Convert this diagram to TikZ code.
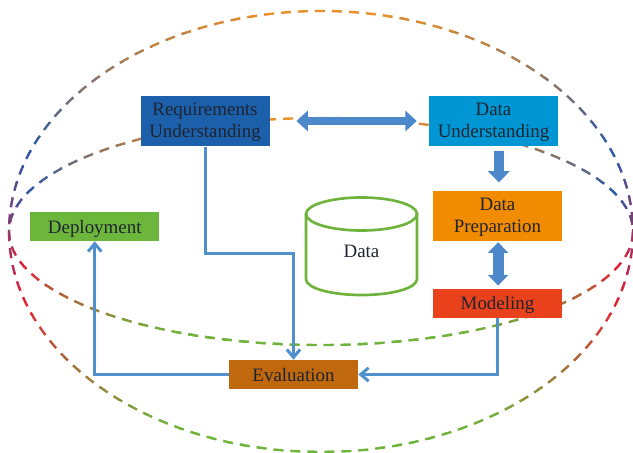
\documentclass[tikz,border=0pt]{standalone}
\usepackage{fontspec}
\setmainfont{Liberation Serif}
\usetikzlibrary{arrows.meta}

\definecolor{ringorange}{RGB}{243,146,32}
\definecolor{ringblue}{RGB}{40,90,170}
\definecolor{ringred}{RGB}{232,30,50}
\definecolor{ringgreen}{RGB}{112,180,60}

\tikzset{
  stagebox/.style={minimum width=96.75pt,minimum height=38pt,inner sep=0pt,align=center,text depth=1.5pt,text={rgb, 255:red, 32; green, 36; blue, 48 },font=\fontsize{14.2}{16.5}\selectfont},
  shortbox/.style={stagebox,minimum height=21.75pt,text height=12.8pt,text depth=2.8pt},
  ringline/.style={line width=1.8pt,dash pattern=on 7.5pt off 5.25pt},
  flowline/.style={draw={rgb, 255:red, 80; green, 145; blue, 205 },line width=2.25pt,-{Straight Barb[length=6pt,width=10pt,line width=2.25pt]}},
  blockline/.style={draw={rgb, 255:red, 76; green, 136; blue, 202 }}
}

%one dashed ellipse, its colour running from top to bottom
\newcommand{\ringdashes}[1]{%
  \foreach \tfrom/\tto/\cfrom/\cto in {-2/32/ringorange/ringblue,32/66/ringblue/ringred,66/94/ringred/ringgreen,94/102/ringgreen/ringgreen}{
    \foreach \k in {0,...,9}{
      \pgfmathsetmacro{\ya}{231.5-#1+2*#1*((\tfrom+(\tto-\tfrom)*\k/10)/100)}
      \pgfmathsetmacro{\yb}{231.5-#1+2*#1*((\tfrom+(\tto-\tfrom)*(\k+1)/10)/100)}
      \pgfmathsetmacro{\mixpct}{(\k+0.5)*10}
      \begin{scope}
        \clip (0,\ya) rectangle (633,\yb);
        \draw [ringline,draw=\cto!\mixpct!\cfrom] (321,231.5) ellipse [x radius=312,y radius=#1];
      \end{scope}
    }
  }%
}

\begin{document}
\begin{tikzpicture}[x=0.75pt,y=0.75pt,yscale=-1,xscale=1]
\useasboundingbox (0,0) rectangle (633,453);

%Shape: Outer Ellipse
\ringdashes{220.5}
%Shape: Inner Ellipse
\ringdashes{113.5}

%Shape: Cylinder
\draw [draw={rgb, 255:red, 110; green, 180; blue, 60 },line width=2pt] (306,214) -- (306,279) .. controls (306,288) and (330,295) .. (361.5,295) .. controls (393,295) and (417,288) .. (417,279) -- (417,214) ;
\draw [draw={rgb, 255:red, 110; green, 180; blue, 60 },line width=2pt] (361.5,214) ellipse [x radius=55.5,y radius=16.5];

% Text Node
\node [stagebox,fill={rgb, 255:red, 28; green, 95; blue, 170 }] (req) at (205,121) {Requirements\\Understanding};
% Text Node
\node [stagebox,fill={rgb, 255:red, 0; green, 150; blue, 212 }] (dataund) at (493.5,121) {Data\\Understanding};
% Text Node
\node [stagebox,fill={rgb, 255:red, 241; green, 140; blue, 0 }] (dataprep) at (497.5,216) {Data\\Preparation};
% Text Node
\node [shortbox,fill={rgb, 255:red, 232; green, 65; blue, 28 }] (model) at (497.5,303) {Modeling};
% Text Node
\node [shortbox,fill={rgb, 255:red, 192; green, 104; blue, 14 }] (eval) at (293.5,374.5) {Evaluation};
% Text Node
\node [shortbox,fill={rgb, 255:red, 108; green, 182; blue, 60 }] (deploy) at (94.75,226.5) {Deployment};
% Text Node
\node [inner sep=0.75pt,text={rgb, 255:red, 32; green, 36; blue, 48 },font=\fontsize{14.2}{16.5}\selectfont] (datalabel) at (361.5,251) {Data};

%Straight Lines
\draw [flowline] (req.south) -- ++(0,107) -| (eval.north) ;
\draw [flowline] (eval.west) -| (deploy.south) ;
\draw [flowline] (model.south) |- (eval.east) ;

%Block Arrows
\draw [blockline,line width=6pt,shorten <=20pt,shorten >=9pt,{Triangle[length=8.5pt,width=15pt]}-{Triangle[length=8.5pt,width=15pt]}] (req.east) -- (dataund.west) ;
\draw [blockline,line width=8pt,shorten <=3pt,shorten >=6pt,-{Triangle[length=8.5pt,width=16pt]}] ([xshift=1pt]dataprep.north |- dataund.south) -- ([xshift=1pt]dataprep.north) ;
\draw [blockline,line width=8pt,shorten <=0.5pt,shorten >=2pt,{Triangle[length=8pt,width=15pt]}-{Triangle[length=8pt,width=15pt]}] ([xshift=0.5pt]dataprep.south) -- ([xshift=0.5pt]model.north) ;

\end{tikzpicture}
\end{document}
